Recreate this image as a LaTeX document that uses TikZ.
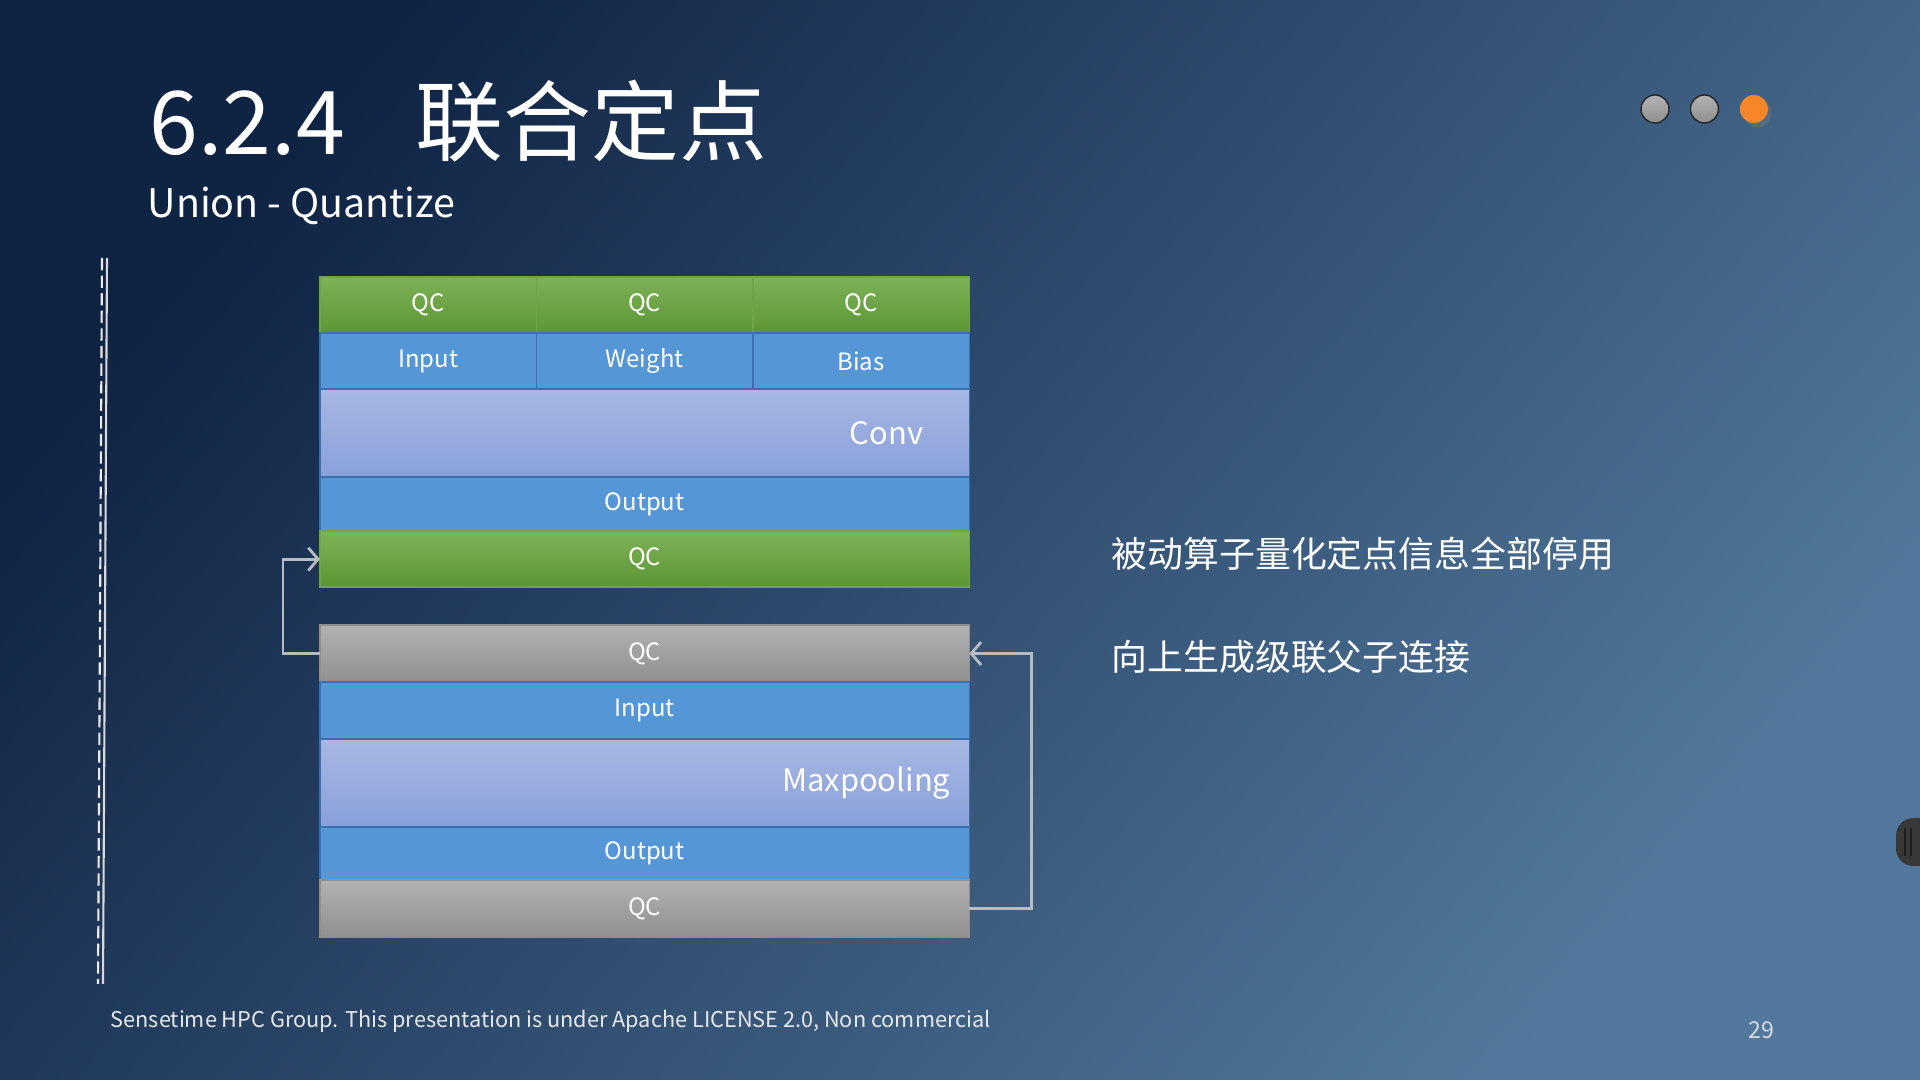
\documentclass[tikz,border=0pt]{standalone}
\usepackage{fontspec}
\setmainfont{Noto Sans CJK SC}
\usetikzlibrary{positioning,arrows.meta,shadows}

\definecolor{bgdark}{HTML}{0F2343}
\definecolor{bgmid}{HTML}{2B4B72}
\definecolor{bglight}{HTML}{52799D}
\definecolor{greenA}{HTML}{7DB257}
\definecolor{greenB}{HTML}{5C9634}
\definecolor{greenline}{HTML}{6FA548}
\definecolor{grayA}{HTML}{B2B2B2}
\definecolor{grayB}{HTML}{8F8F8F}
\definecolor{portblue}{HTML}{5597D6}
\definecolor{portline}{HTML}{3A70B0}
\definecolor{coreA}{HTML}{A8B7E2}
\definecolor{coreB}{HTML}{88A0DA}
\definecolor{linkgray}{HTML}{B7BCC4}
\definecolor{dotorange}{HTML}{F7862A}

\begin{document}
\begin{tikzpicture}[
  x=0.01cm, y=-0.01cm,
  node distance=0pt,
  cell/.style={rectangle, outer sep=0pt, inner sep=0pt, text=white,
               font=\fontsize{6.8}{8}\selectfont, minimum height=0.56cm},
  qcg/.style={cell, draw=greenline, top color=greenA, bottom color=greenB},
  qcgray/.style={cell, draw=grayB, top color=grayA, bottom color=grayB},
  port/.style={cell, draw=portline, fill=portblue},
  core/.style={cell, draw=portline, top color=coreA, bottom color=coreB,
               font=\fontsize{8.8}{11}\selectfont, minimum height=0.88cm,
               minimum width=6.49cm, align=right},
  link/.style={draw=linkgray, line width=0.8pt,
               -{Straight Barb[length=2.8pt, width=6.5pt]}},
  pagedot/.style={circle, minimum size=0.28cm, inner sep=0pt},
  note/.style={text=white, inner sep=0pt, font=\fontsize{10.2}{12}\selectfont}
]
  \useasboundingbox (0,0) rectangle (1920,1080);
  \shade[top color=bgdark, middle color=bgmid, bottom color=bglight, shading angle=50]
    (0,0) rectangle (1920,1080);

  \node[anchor=base west, inner sep=0pt, text=white, font=\fontsize{25}{30}\selectfont]
    (title) at (149,155) {6.2.4\hspace{0.8em}联合定点};
  \node[anchor=base west, inner sep=0pt, text=white, font=\fontsize{11.2}{14}\selectfont]
    (subtitle) at (147,218) {Union - Quantize};

  \node[pagedot, draw=black!85, top color=grayA, bottom color=grayB] (dot1) at (1655,109) {};
  \node[pagedot, draw=black!85, top color=grayA, bottom color=grayB, right=0.2cm of dot1] (dot2) {};
  \node[pagedot, fill=dotorange, drop shadow={shadow xshift=1pt, shadow yshift=-1.2pt, opacity=0.35},
        right=0.2cm of dot2] (dot3) {};

  \draw[white!85!gray, line width=0.6pt, dash pattern=on 3.5pt off 1.5pt] (102,258) -- (98,984);
  \draw[white!70!gray, line width=0.6pt] (107,258) -- (103,984);

  \node[qcg, minimum width=2.163cm, anchor=north west] (qc1) at (320,277) {QC};
  \node[qcg, minimum width=2.163cm, right=of qc1] (qc2) {QC};
  \node[qcg, minimum width=2.163cm, right=of qc2] (qc3) {QC};
  \node[port, minimum width=2.163cm, below=of qc1] (input) {Input};
  \node[port, minimum width=2.163cm, below=of qc2] (weight) {Weight};
  \node[port, minimum width=2.163cm, below=of qc3] (bias) {Bias};
  \node[core, text width=5.57cm, inner xsep=0.46cm, below=of weight] (conv) {Conv};
  \node[port, minimum width=6.49cm, minimum height=0.54cm, below=of conv] (convout) {Output};
  \node[qcg, minimum width=6.49cm, below=of convout] (convqc) {QC};

  \node[qcgray, minimum width=6.49cm, minimum height=0.57cm, anchor=north west] (poolqc) at (320,625) {QC};
  \node[port, minimum width=6.49cm, minimum height=0.57cm, below=of poolqc] (poolin) {Input};
  \node[core, text width=6.11cm, inner xsep=0.19cm, below=of poolin] (pool) {Maxpooling};
  \node[port, minimum width=6.49cm, minimum height=0.53cm, below=of pool] (poolout) {Output};
  \node[qcgray, minimum width=6.49cm, minimum height=0.57cm, below=of poolout] (poolqc2) {QC};

  \draw[link] (poolqc.west) -- ++(-37,0) |- (convqc.west);
  \draw[link] (poolqc2.east) -- ++(62,0) |- (poolqc.east);

  \node[note, anchor=west] (note1) at (1111,554) {被动算子量化定点信息全部停用};
  \node[note, anchor=west] (note2) at (1111,657) {向上生成级联父子连接};

  \node[anchor=west, inner sep=0pt, text=white!88!bgmid, font=\fontsize{6.17}{7}\selectfont]
    (footer) at (110,1021) {Sensetime HPC Group. This presentation is under Apache LICENSE 2.0, Non commercial};
  \node[inner sep=0pt, text=white!80!bgmid, font=\fontsize{6.6}{8}\selectfont] (pagenum) at (1761,1030) {29};

  \fill[black!78, rounded corners=5pt] (1896,818) rectangle (1940,866);
  \draw[black!88, line width=0.5pt] (1905,828) -- (1905,856);
  \draw[black!88, line width=0.5pt] (1911,828) -- (1911,856);
\end{tikzpicture}
\end{document}
